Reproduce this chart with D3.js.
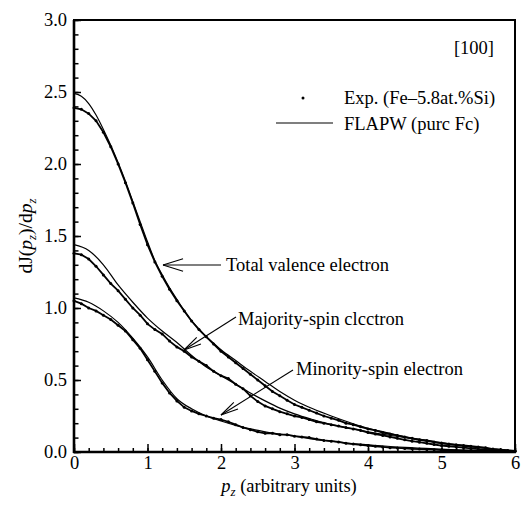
<!DOCTYPE html>
<html><head><meta charset="utf-8">
<script src="https://cdn.jsdelivr.net/npm/d3@7"></script>
<style>body{margin:0;background:#fff}svg{display:block}text{fill:#000}</style>
</head><body><svg id="c" width="522" height="506"></svg>
<script>
// ---- data ----
const pzExp = [0,0.1,0.2,0.3,0.4,0.5,0.6,0.7,0.8,0.9,1.0,1.1,1.2,1.3,1.4,1.5,1.6,1.7,1.8,1.9,2.0,2.1,2.2,2.3,2.4,2.5,2.6,2.7,2.8,2.9,3.0,3.1,3.2,3.3,3.4,3.5,3.6,3.7,3.8,3.9,4.0,4.1,4.2,4.3,4.4,4.5,4.6,4.7,4.8,4.9,5.0,5.1,5.2,5.3,5.4,5.5,5.6,5.7,5.8,5.9,6.0];
const totalExp = [2.39,2.38,2.35,2.30,2.22,2.12,2.00,1.87,1.73,1.58,
 1.44,1.32,1.22,1.13,1.05,0.98,0.91,0.85,0.80,0.75,
 0.70,0.66,0.62,0.58,0.54,0.50,0.46,0.42,0.39,0.36,
 0.33,0.31,0.29,0.27,0.25,0.235,0.22,0.20,0.19,0.175,
 0.16,0.15,0.135,0.125,0.115,0.105,0.095,0.085,0.08,0.07,
 0.062,0.055,0.05,0.045,0.04,0.035,0.03,0.02,0.015,0.01,0.008];
const majorityExp = [1.38,1.37,1.34,1.29,1.23,1.17,1.12,1.06,1.00,0.95,
 0.89,0.85,0.82,0.77,0.73,0.70,0.66,0.63,0.60,0.56,
 0.53,0.51,0.47,0.44,0.39,0.35,0.32,0.30,0.28,0.265,
 0.25,0.24,0.225,0.21,0.20,0.19,0.18,0.17,0.16,0.15,
 0.135,0.125,0.115,0.105,0.095,0.085,0.075,0.068,0.06,0.052,
 0.045,0.04,0.035,0.03,0.025,0.02,0.016,0.012,0.009,0.006,0.004];
const minorityExp = [1.05,1.03,1.00,0.98,0.95,0.92,0.88,0.84,0.78,0.72,
 0.64,0.56,0.48,0.41,0.355,0.31,0.285,0.265,0.25,0.235,
 0.225,0.21,0.19,0.17,0.155,0.14,0.13,0.13,0.12,0.12,
 0.11,0.105,0.10,0.09,0.08,0.075,0.07,0.06,0.055,0.05,
 0.045,0.04,0.035,0.03,0.028,0.025,0.022,0.02,0.018,0.016,
 0.014,0.012,0.011,0.01,0.009,0.008,0.007,0.006,0.006,0.005,0.005];

const pzTotTh = [0,0.1,0.2,0.3,0.4,0.5,0.6,0.7,0.8,0.9,1.0,1.1,1.2,1.3,1.4,1.5,1.6,1.7,1.8,1.9,2.0,2.2,2.4,2.6,2.8,3.0,3.25,3.5,3.75,4.0,4.25,4.5,4.75,5.0,5.25,5.5,5.75,6.0];
const totalTh = [2.49,2.47,2.42,2.34,2.24,2.13,2.01,1.88,1.74,1.60,1.46,1.33,1.23,1.14,1.06,0.98,0.91,0.855,0.80,0.755,0.71,0.635,0.56,0.49,0.42,0.36,0.30,0.25,0.205,0.165,0.135,0.105,0.085,0.065,0.048,0.033,0.018,0.006];
const pzSpinTh = [0,0.2,0.4,0.6,0.8,1.0,1.2,1.4,1.6,1.8,2.0,2.2,2.4,2.6,2.8,3.0,3.25,3.5,3.75,4.0,4.5,5.0,5.5,6.0];
const majorityTh = [1.44,1.40,1.30,1.16,1.04,0.93,0.84,0.76,0.67,0.59,0.53,0.47,0.41,0.355,0.305,0.265,0.225,0.19,0.165,0.14,0.10,0.06,0.03,0.01];
const minorityTh = [1.07,1.04,0.98,0.90,0.79,0.66,0.50,0.37,0.30,0.25,0.215,0.185,0.16,0.14,0.125,0.11,0.09,0.075,0.06,0.05,0.032,0.02,0.01,0.005];

const xTicksMajor = [0,1,2,3,4,5,6];
const yTicksMajor = [0,0.5,1.0,1.5,2.0,2.5,3.0];

// ---- drawing ----
const svg = d3.select("#c");
const L=74,R=515,T=20,B=452;
const x = d3.scaleLinear([0,6],[L,R]);
const y = d3.scaleLinear([0,3],[B,T]);
const FS = 18.5;
const FF = "'Times New Roman', Tinos, 'Liberation Serif', 'Noto Serif', 'DejaVu Serif', Times, serif";

// minor ticks
svg.append("g").attr("transform",`translate(0,${B})`)
  .call(d3.axisBottom(x).tickValues(d3.range(0,6.001,0.2)).tickSize(-4).tickFormat(""))
  .call(g=>{g.select(".domain").remove();g.selectAll("line").attr("stroke","#000").attr("stroke-width",1.5);});
svg.append("g").attr("transform",`translate(${L},0)`)
  .call(d3.axisLeft(y).tickValues(d3.range(0,3.001,0.1)).tickSize(-4.5).tickFormat(""))
  .call(g=>{g.select(".domain").remove();g.selectAll("line").attr("stroke","#000").attr("stroke-width",1.5);});
// major ticks
svg.append("g").attr("transform",`translate(0,${B})`)
  .call(d3.axisBottom(x).tickValues(xTicksMajor).tickSize(-8).tickPadding(4).tickFormat(d3.format("d")))
  .call(g=>{g.attr("font-family",null);g.select(".domain").remove();g.selectAll("line").attr("stroke","#000").attr("stroke-width",1.5);
    g.selectAll("text").style("font-family",FF).style("font-size",FS+"px").attr("fill","#000");});
svg.append("g").attr("transform",`translate(${L},0)`)
  .call(d3.axisLeft(y).tickValues(yTicksMajor).tickSize(-7).tickPadding(7).tickFormat(d3.format(".1f")))
  .call(g=>{g.attr("font-family",null);g.select(".domain").remove();g.selectAll("line").attr("stroke","#000").attr("stroke-width",1.5);
    g.selectAll("text").style("font-family",FF).style("font-size",FS+"px").attr("fill","#000");});

// frame
svg.append("rect").attr("x",L).attr("y",T).attr("width",R-L).attr("height",B-T)
  .attr("fill","none").attr("stroke","#000").attr("stroke-width",2);
svg.append("line").attr("x1",L).attr("x2",L).attr("y1",T).attr("y2",B+1).attr("stroke","#000").attr("stroke-width",2.6);
svg.append("line").attr("x1",L-1).attr("x2",R+1).attr("y1",B).attr("y2",B).attr("stroke","#000").attr("stroke-width",2.6);

// theory curves
const thLine = d3.line().x(d=>x(d[0])).y(d=>y(d[1])).curve(d3.curveMonotoneX);
[[pzTotTh,totalTh],[pzSpinTh,majorityTh],[pzSpinTh,minorityTh]].forEach(([px,vals])=>{
  svg.append("path").datum(px.map((p,i)=>[p,vals[i]])).attr("d",thLine)
    .attr("fill","none").attr("stroke","#000").attr("stroke-width",1.2);
});
// experimental curves
const exLine = d3.line().x(d=>x(d[0])).y(d=>y(d[1]));
[totalExp,majorityExp,minorityExp].forEach(vals=>{
  const data = pzExp.map((p,i)=>[p,vals[i]]);
  svg.append("path").datum(data).attr("d",exLine)
    .attr("fill","none").attr("stroke","#000").attr("stroke-width",1.8);
  svg.append("g").selectAll("circle").data(data).join("circle")
    .attr("cx",d=>x(d[0])).attr("cy",d=>y(d[1])).attr("r",1.5).attr("fill","#000");
});

// text annotations
function txt(xp,yp,s,anchor){
  return svg.append("text").attr("x",xp).attr("y",yp).style("font-size",FS+"px").style("font-family",FF)
    .attr("text-anchor",anchor||"start").text(s);
}
txt(494,54,"[100]","end");
svg.append("circle").attr("cx",303).attr("cy",98).attr("r",1.5).attr("fill","#000");
txt(344,104,"Exp. (Fe\u20135.8at.%Si)");
svg.append("line").attr("x1",276).attr("x2",333).attr("y1",123).attr("y2",123).attr("stroke","#000").attr("stroke-width",1.2);
txt(344,130,"FLAPW (purc Fc)");
txt(226,271,"Total valence electron");
txt(238,325,"Majority-spin clcctron");
txt(296,375,"Minority-spin electron");

// arrows
function arrow(x1,y1,x2,y2,len,ang){
  svg.append("line").attr("x1",x1).attr("y1",y1).attr("x2",x2).attr("y2",y2)
    .attr("stroke","#000").attr("stroke-width",1.1);
  const a = Math.atan2(y1-y2,x1-x2);
  [ang,-ang].forEach(da=>{
    svg.append("line").attr("x1",x2).attr("y1",y2)
      .attr("x2",x2+len*Math.cos(a+da)).attr("y2",y2+len*Math.sin(a+da))
      .attr("stroke","#000").attr("stroke-width",1.1);
  });
}
arrow(221,265,163,265,21,0.30);
arrow(236,317,184,350,18,0.22);
arrow(293,370,221,415,18,0.22);

// axis titles
const xt = svg.append("text").attr("x",289).attr("y",492).attr("text-anchor","middle").style("font-size",FS+"px").style("font-family",FF);
xt.append("tspan").attr("font-style","italic").text("p");
xt.append("tspan").attr("font-style","italic").style("font-size","13px").attr("dy",4).text("z");
xt.append("tspan").attr("dy",-4).text(" (arbitrary units)");

const yt = svg.append("text").attr("transform","translate(32,236) rotate(-90)").attr("text-anchor","middle").style("font-size",(FS+1)+"px").style("font-family",FF);
yt.append("tspan").text("d");
yt.append("tspan").text("J(");
yt.append("tspan").attr("font-style","italic").text("p");
yt.append("tspan").attr("font-style","italic").style("font-size","13px").attr("dy",4).text("z");
yt.append("tspan").attr("dy",-4).text(")/d");
yt.append("tspan").attr("font-style","italic").text("p");
yt.append("tspan").attr("font-style","italic").style("font-size","13px").attr("dy",4).text("z");
</script></body></html>
